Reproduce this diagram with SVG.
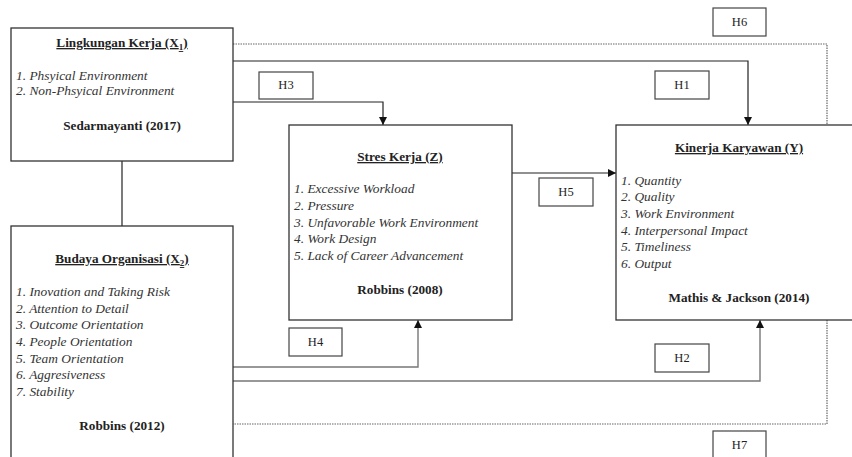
<svg xmlns="http://www.w3.org/2000/svg" width="852" height="457" viewBox="0 0 852 457">
<defs>
<marker id="arr" viewBox="0 0 10 10" refX="10" refY="5" markerWidth="9" markerHeight="8" markerUnits="userSpaceOnUse" orient="auto">
<path d="M0,0 L10,5 L0,10 z" fill="#111"/>
</marker>
<style>
.box{fill:#fff;stroke:#333;stroke-width:1.3}
.hbox{fill:#fff;stroke:#444;stroke-width:1.2}
.t{font-family:"Liberation Serif","Times New Roman",serif;fill:#222}
.title{font-size:13.2px;font-weight:bold;text-decoration:underline;text-anchor:middle}
.item{font-size:13.4px;font-style:italic;fill:#333}
.ref{font-size:13.2px;font-weight:bold;text-anchor:middle}
.h{font-size:12.5px;text-anchor:middle}
.line{fill:none;stroke:#222;stroke-width:1.2}
.gline{fill:none;stroke:#777;stroke-width:1.4}
.dot{fill:none;stroke:#666;stroke-width:1.2;stroke-dasharray:1.5 1}
</style>
</defs>
<rect width="852" height="457" fill="#fff"/>
<g id="connectors">
<polyline class="dot" points="233,44 827,44 827,424 233,424"/>
<polyline class="line" points="233,61 748,61 748,125" marker-end="url(#arr)"/>
<polyline class="line" points="233,102 383,102 383,125" marker-end="url(#arr)"/>
<line class="line" x1="512" y1="173" x2="616" y2="173" marker-end="url(#arr)"/>
<polyline class="gline" points="233,367 418,367 418,320" marker-end="url(#arr)"/>
<polyline class="gline" points="233,381 760,381 760,320" marker-end="url(#arr)"/>
<line class="line" x1="122" y1="161" x2="122" y2="226"/>
</g>
<g id="lingkungan-kerja">
<rect class="box" x="11" y="28" width="222" height="133"/>
<text class="t title" x="122" y="47">Lingkungan Kerja (X<tspan font-size="9" dy="3">1</tspan><tspan dy="-3">)</tspan></text>
<text class="t item" x="16" y="80">1. Phsyical Environment</text>
<text class="t item" x="16" y="95">2. Non-Phsyical Environment</text>
<text class="t ref" x="122" y="130">Sedarmayanti (2017)</text>
</g>
<g id="budaya-organisasi">
<rect class="box" x="11" y="226" width="222" height="240"/>
<text class="t title" x="122" y="263">Budaya Organisasi (X<tspan font-size="9" dy="3">2</tspan><tspan dy="-3">)</tspan></text>
<text class="t item" x="16" y="296">1. Inovation and Taking Risk</text>
<text class="t item" x="16" y="313">2. Attention to Detail</text>
<text class="t item" x="16" y="329">3. Outcome Orientation</text>
<text class="t item" x="16" y="346">4. People Orientation</text>
<text class="t item" x="16" y="363">5. Team Orientation</text>
<text class="t item" x="16" y="379">6. Aggresiveness</text>
<text class="t item" x="16" y="396">7. Stability</text>
<text class="t ref" x="122" y="430">Robbins (2012)</text>
</g>
<g id="stres-kerja">
<rect class="box" x="289" y="125" width="223" height="195"/>
<text class="t title" x="400" y="161">Stres Kerja (Z)</text>
<text class="t item" x="294" y="193">1. Excessive Workload</text>
<text class="t item" x="294" y="210">2. Pressure</text>
<text class="t item" x="294" y="227">3. Unfavorable Work Environment</text>
<text class="t item" x="294" y="243">4. Work Design</text>
<text class="t item" x="294" y="260">5. Lack of Career Advancement</text>
<text class="t ref" x="400" y="294">Robbins (2008)</text>
</g>
<g id="kinerja-karyawan">
<rect class="box" x="616" y="125" width="260" height="195"/>
<text class="t title" x="739" y="152">Kinerja Karyawan (Y)</text>
<text class="t item" x="621" y="185">1. Quantity</text>
<text class="t item" x="621" y="201">2. Quality</text>
<text class="t item" x="621" y="218">3. Work Environment</text>
<text class="t item" x="621" y="235">4. Interpersonal Impact</text>
<text class="t item" x="621" y="251">5. Timeliness</text>
<text class="t item" x="621" y="268">6. Output</text>
<text class="t ref" x="739" y="302">Mathis &amp; Jackson (2014)</text>
</g>
<g id="h6"><rect class="hbox" x="713" y="8" width="53" height="28"/><text class="t h" x="739.5" y="26">H6</text></g>
<g id="h1"><rect class="hbox" x="655" y="71" width="54" height="28"/><text class="t h" x="682" y="89">H1</text></g>
<g id="h3"><rect class="hbox" x="259" y="72" width="54" height="27"/><text class="t h" x="286" y="89">H3</text></g>
<g id="h5"><rect class="hbox" x="539" y="178" width="54" height="28"/><text class="t h" x="566" y="196">H5</text></g>
<g id="h4"><rect class="hbox" x="289" y="328" width="53" height="28"/><text class="t h" x="315.5" y="346">H4</text></g>
<g id="h2"><rect class="hbox" x="655" y="344" width="54" height="28"/><text class="t h" x="682" y="362">H2</text></g>
<g id="h7"><rect class="hbox" x="713" y="431" width="53" height="30"/><text class="t h" x="739.5" y="449">H7</text></g>
</svg>
